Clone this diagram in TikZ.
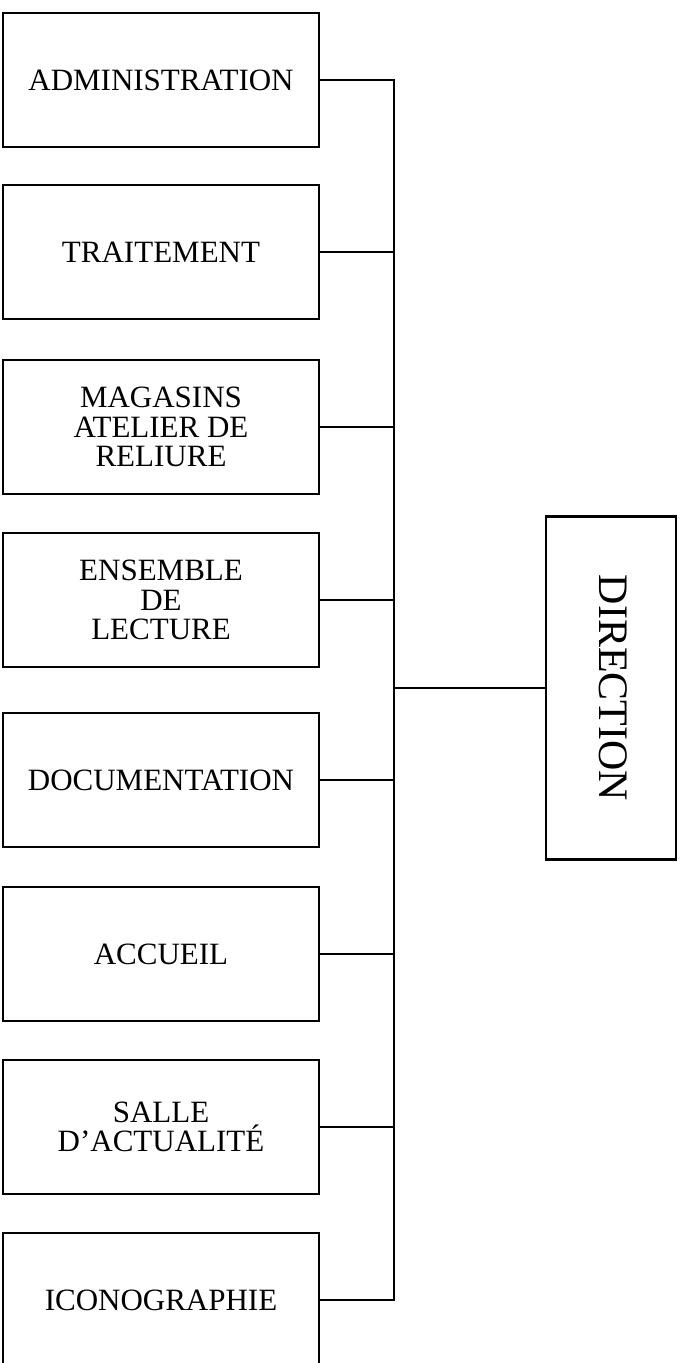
\documentclass[tikz,border=0pt]{standalone}
\usepackage{fontspec}
\setmainfont{Liberation Serif}
\begin{document}
\begin{tikzpicture}[x=0.5pt,y=-0.5pt,
  unit/.style={draw, line width=0.65pt, rectangle, minimum width=158pt, minimum height=67pt,
    inner sep=0pt, align=center, font=\fontsize{15.5}{14.8}\selectfont},
  dirbox/.style={draw, line width=1.3pt, rectangle, minimum width=65pt, minimum height=171.5pt, inner sep=0pt},
  dirtext/.style={rotate=-90, inner sep=0pt, font=\fontsize{21}{21}\selectfont},
  wire/.style={line width=0.55pt}]
\useasboundingbox (0,0) rectangle (685,1363);
% service boxes
\node[unit] (n1) at (161,80) {ADMINISTRATION};
\node[unit] (n2) at (161,252) {TRAITEMENT};
\node[unit] (n3) at (161,427) {MAGASINS\\ATELIER DE\\RELIURE};
\node[unit] (n4) at (161,600) {ENSEMBLE\\DE\\LECTURE};
\node[unit] (n5) at (161,780) {DOCUMENTATION};
\node[unit] (n6) at (161,954) {ACCUEIL};
\node[unit] (n7) at (161,1127) {SALLE\\D’ACTUALITÉ};
\node[unit] (n8) at (161,1300) {ICONOGRAPHIE};
% direction box
\node[dirbox] (dir) at (611,688) {};
\node[dirtext] (dirlabel) at (613,688) {DIRECTION};
% vertical bus and branches
\coordinate (bus) at (394,0);
\draw[wire] (n1.east) -- (n1.east -| bus) -- (n8.east -| bus) -- (n8.east);
\foreach \n in {n2,n3,n4,n5,n6,n7}
  \draw[wire] (\n.east) -- (\n.east -| bus);
\draw[wire] (dir.west) -- (dir.west -| bus);
\end{tikzpicture}
\end{document}
